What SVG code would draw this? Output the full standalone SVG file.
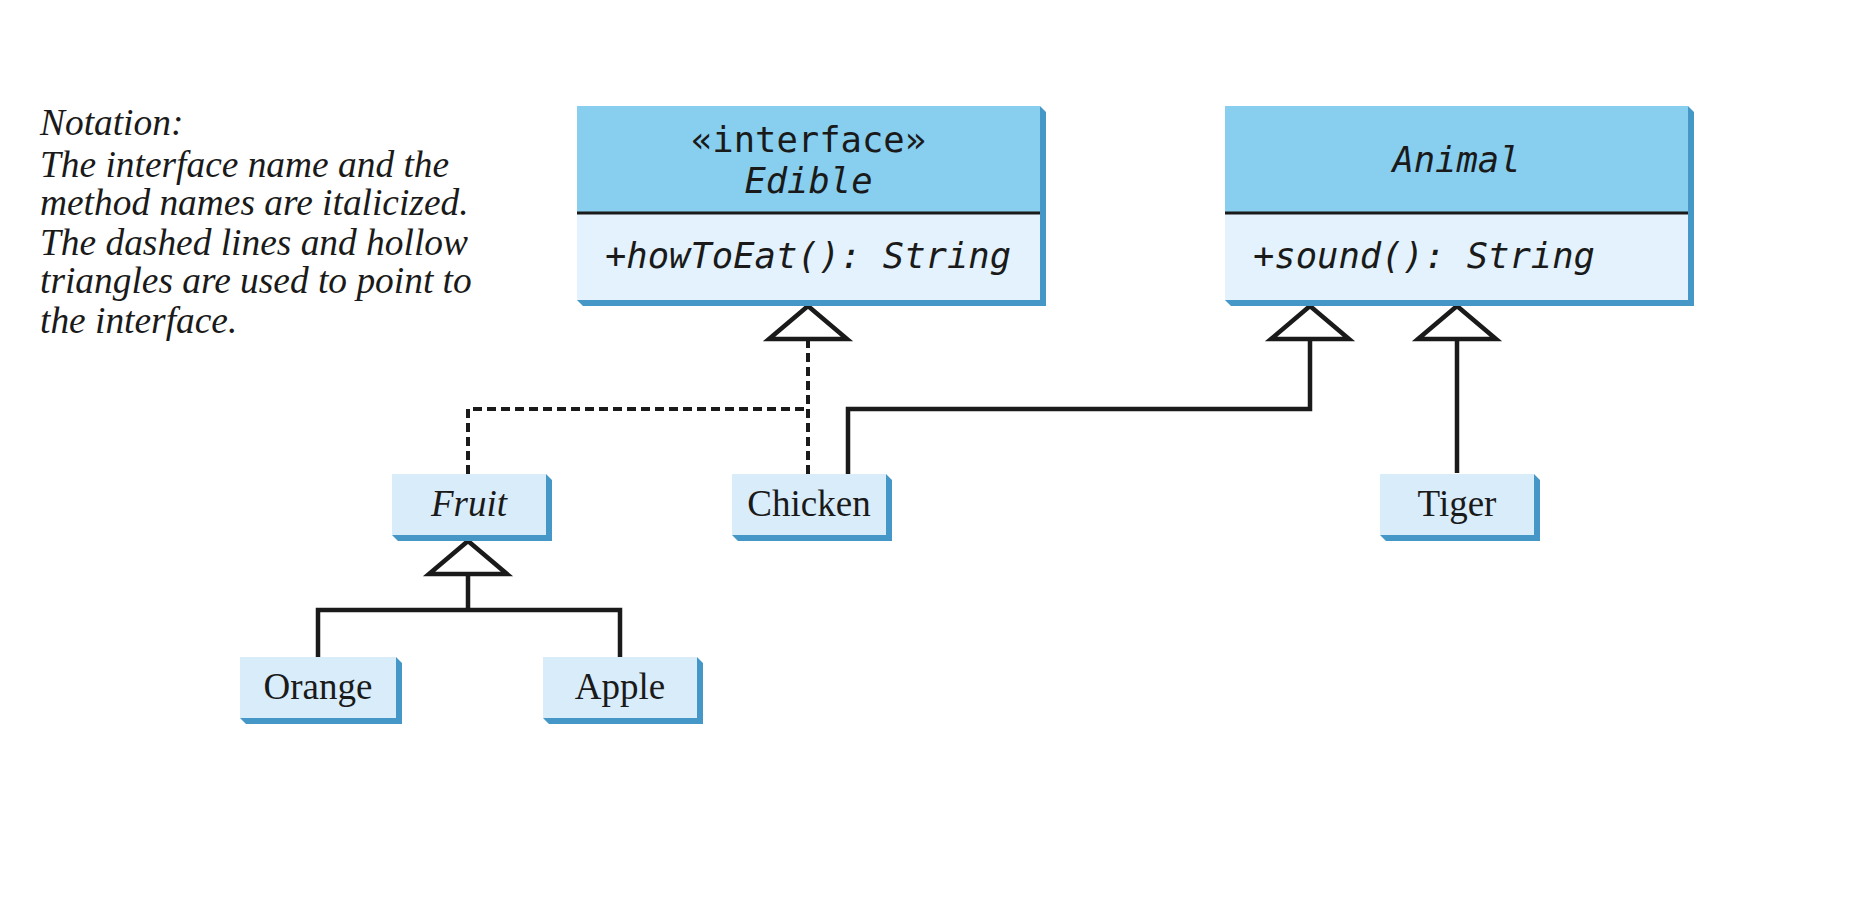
<svg xmlns="http://www.w3.org/2000/svg" width="1866" height="924" viewBox="0 0 1866 924">
<style>
.shadow{fill:#4597c8}
.head{fill:#87ceef}
.body{fill:#e3f2fc}
.small{fill:#d8ecfa}
.div{stroke:#1a1a1a;stroke-width:3}
.mono{font-family:"DejaVu Sans Mono","Liberation Mono",monospace;font-size:35.5px;fill:#1a1a1a}
.it{font-style:italic}
.serif{font-family:"Liberation Serif","Times New Roman",serif;font-size:37px;fill:#1a1a1a}
.note{font-family:"Liberation Serif","Times New Roman",serif;font-size:37.4px;font-style:italic;fill:#1a1a1a}
.solid{fill:none;stroke:#1a1a1a;stroke-width:4.5}
.dash{fill:none;stroke:#1a1a1a;stroke-width:4;stroke-dasharray:9,5}
.tri{fill:#ffffff;stroke:#1a1a1a;stroke-width:4.5;stroke-linejoin:miter}
</style>
<rect width="1866" height="924" fill="#ffffff"/>

<g id="notation">
<text class="note" x="40" y="135">Notation:</text>
<text class="note" x="40" y="177">The interface name and the</text>
<text class="note" x="40" y="215">method names are italicized.</text>
<text class="note" x="40" y="255">The dashed lines and hollow</text>
<text class="note" x="40" y="293">triangles are used to point to</text>
<text class="note" x="40" y="333">the interface.</text>
</g>

<g id="connectors">
<path class="dash" d="M808,474 V339"/>
<path class="dash" d="M468,474 V409 H808"/>
<path class="solid" d="M848,474 V409 H1310 V339"/>
<path class="solid" d="M1457,473 V339"/>
<path class="solid" d="M468,574 V610 M318,657 V610 H620 V657"/>
<polygon class="tri" points="808,306 847,339 769,339"/>
<polygon class="tri" points="1310,306 1349,339 1271,339"/>
<polygon class="tri" points="1457,306 1496,339 1418,339"/>
<polygon class="tri" points="468,541 507,574 429,574"/>
</g>

<g id="edible">
<polygon class="shadow" points="1040,106 1046,112 1046,306 583,306 577,300 1040,300"/>
<rect class="head" x="577" y="106" width="463" height="107"/>
<rect class="body" x="577" y="213" width="463" height="87"/>
<line class="div" x1="577" y1="213" x2="1040" y2="213"/>
<text class="mono" x="808.5" y="152" text-anchor="middle">«interface»</text>
<text class="mono it" x="808.5" y="193" text-anchor="middle">Edible</text>
<text class="mono it" x="605" y="268">+howToEat(): String</text>
</g>

<g id="animal">
<polygon class="shadow" points="1688,106 1694,112 1694,306 1231,306 1225,300 1688,300"/>
<rect class="head" x="1225" y="106" width="463" height="107"/>
<rect class="body" x="1225" y="213" width="463" height="87"/>
<line class="div" x1="1225" y1="213" x2="1688" y2="213"/>
<text class="mono it" x="1456.5" y="172" text-anchor="middle">Animal</text>
<text class="mono it" x="1253" y="268">+sound(): String</text>
</g>

<g id="fruit">
<polygon class="shadow" points="546,474 552,480 552,541 398,541 392,535 546,535"/>
<rect class="small" x="392" y="474" width="154" height="61"/>
<text class="serif it" x="469" y="516" text-anchor="middle">Fruit</text>
</g>

<g id="chicken">
<polygon class="shadow" points="886,474 892,480 892,541 738,541 732,535 886,535"/>
<rect class="small" x="732" y="474" width="154" height="61"/>
<text class="serif" x="809" y="516" text-anchor="middle">Chicken</text>
</g>

<g id="tiger">
<polygon class="shadow" points="1534,474 1540,480 1540,541 1386,541 1380,535 1534,535"/>
<rect class="small" x="1380" y="474" width="154" height="61"/>
<text class="serif" x="1457" y="516" text-anchor="middle">Tiger</text>
</g>

<g id="orange">
<polygon class="shadow" points="396,657 402,663 402,724 246,724 240,718 396,718"/>
<rect class="small" x="240" y="657" width="156" height="61"/>
<text class="serif" x="318" y="699" text-anchor="middle">Orange</text>
</g>

<g id="apple">
<polygon class="shadow" points="697,657 703,663 703,724 549,724 543,718 697,718"/>
<rect class="small" x="543" y="657" width="154" height="61"/>
<text class="serif" x="620" y="699" text-anchor="middle">Apple</text>
</g>
</svg>
